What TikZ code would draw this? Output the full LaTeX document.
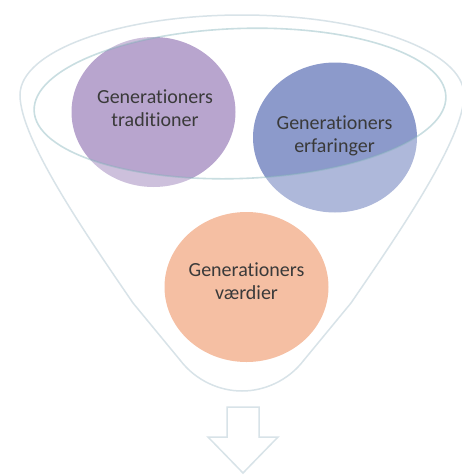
\documentclass[tikz,border=0pt]{standalone}
\usepackage{fontspec}
\setmainfont{Carlito}[Ligatures={NoCommon}]
\usetikzlibrary{shapes.geometric}
\definecolor{purpC}{HTML}{B8A5CE}
\definecolor{blueC}{HTML}{8C9ACB}
\definecolor{orngC}{HTML}{F1A47C}
\definecolor{funnelC}{HTML}{D8E3E8}
\definecolor{rimC}{HTML}{7FB0B8}
\definecolor{txtC}{HTML}{3A3A3A}
\tikzset{
  blob/.style={ellipse, minimum width=164pt, minimum height=150pt, inner sep=0pt, draw=none},
  label/.style={align=center, text=txtC, font=\fontsize{20}{23}\selectfont, inner sep=0pt},
  funnel/.style={draw=funnelC, line width=1.5pt},
  rim/.style={draw=rimC, draw opacity=0.42, line width=1.6pt},
  arrowshape/.style={draw=funnelC, line width=1.5pt, fill=white}
}
\begin{document}
\begin{tikzpicture}[x=1pt,y=1pt]
\useasboundingbox (0,0) rectangle (462,-475);
% circles
\node[blob, fill=purpC] (tradC) at (153.5,-112) {};
\node[blob, fill=blueC] (erfC) at (335,-137.5) {};
\node[blob, fill=orngC] (vaerC) at (246.5,-287) {};
% lighten everything outside the rim
\fill[white, fill opacity=0.3, even odd rule, rotate around={2:(240,-103.5)}]
  (-60,60) rectangle (530,-540)
  (240,-103.5) ellipse [x radius=206, y radius=75];
% funnel outline
\draw[funnel] (20,-95) arc[start angle=180, end angle=0, x radius=222, y radius=80]
  .. controls (464,-140) and (394,-240) .. (351,-303) -- (304,-360)
  .. controls (288,-381) and (264,-391) .. (242,-391)
  .. controls (220,-391) and (196,-381) .. (180,-360) -- (133,-303)
  .. controls (90,-240) and (20,-140) .. (20,-95) -- cycle;
% rim
\draw[rim, rotate around={2:(240,-103.5)}] (240,-103.5) ellipse [x radius=206, y radius=75];
% texts
\node[label] (trad) at (155,-108) {Generationers\\traditioner};
\node[label] (erf) at (334.5,-136) {Generationers\\erfaringer};
\node[label] (vaer) at (246.5,-281.5) {Generationers\\værdier};
% arrow
\draw[arrowshape] (227,-407) -- (259,-407) -- (259,-437) -- (278,-437) -- (243,-473) -- (208,-437) -- (227,-437) -- cycle;
\end{tikzpicture}
\end{document}
